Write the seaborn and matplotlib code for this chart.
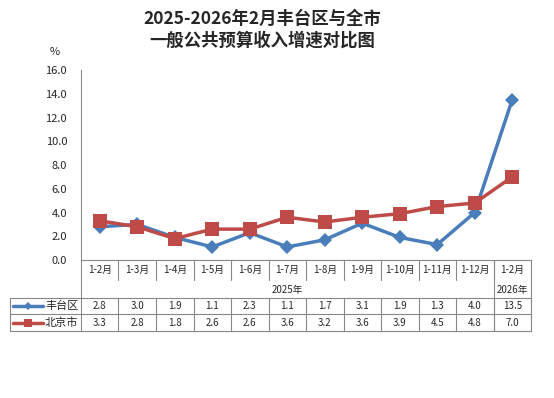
import numpy as np
import pandas as pd
import matplotlib
matplotlib.use("Agg")
import matplotlib.pyplot as plt
import seaborn as sns
from matplotlib.lines import Line2D

# Daten
categories = ["1-2月", "1-3月", "1-4月", "1-5月", "1-6月", "1-7月", "1-8月",
              "1-9月", "1-10月", "1-11月", "1-12月", "1-2月"]
fengtai = [2.8, 3.0, 1.9, 1.1, 2.3, 1.1, 1.7, 3.1, 1.9, 1.3, 4.0, 13.5]
beijing = [3.3, 2.8, 1.8, 2.6, 2.6, 3.6, 3.2, 3.6, 3.9, 4.5, 4.8, 7.0]
series_names = ["丰台区", "北京市"]
year_labels = ["2025年", "2026年"]
title = "2025-2026年2月丰台区与全市\n一般公共预算收入增速对比图"

sns.set_theme(style="white")
plt.rcParams['font.family'] = ['Noto Sans CJK SC', 'DejaVu Sans']

W, H = 554, 398
fig = plt.figure(figsize=(W / 100, H / 100), dpi=100)


def fx(x):
    return x / W


def fy(y):
    return 1 - y / H


x0, x1, ytop, ybot = 81, 531, 70, 260
ax = fig.add_axes([fx(x0), fy(ybot), fx(x1) - fx(x0), fy(ytop) - fy(ybot)])

df = pd.DataFrame({
    "pos": list(range(len(categories))) * 2,
    "value": fengtai + beijing,
    "series": [series_names[0]] * len(fengtai) + [series_names[1]] * len(beijing),
})
blue, red = "#4A7EBB", "#BE4B48"
sns.lineplot(data=df, x="pos", y="value", hue="series", style="series",
             palette=[blue, red], markers=["D", "s"], dashes=False,
             markersize=7, linewidth=2.5, ax=ax, legend=False)
for ln, ms in zip(ax.lines, [7, 9.5]):
    ln.set_markersize(ms)
    ln.set_markeredgewidth(0)

ax.set_xlim(-0.5, len(categories) - 0.5)
ax.set_ylim(0, 16)
ax.set_yticks(np.arange(0, 16.1, 2))
ax.set_yticklabels([f"{v:.1f}" for v in np.arange(0, 16.1, 2)], fontsize=8)
ax.set_xticks([])
ax.set_xlabel("")
ax.set_ylabel("")
ax.tick_params(axis="y", length=0, pad=10)
for s in ["top", "right"]:
    ax.spines[s].set_visible(False)
for s in ["left", "bottom"]:
    ax.spines[s].set_color("#888888")
    ax.spines[s].set_linewidth(0.8)

fig.text(fx(55), fy(52), "%", fontsize=8, ha="center", va="center")
fig.text(fx(262), fy(30), title, fontsize=12.5, fontweight="bold",
         ha="center", va="center", linespacing=1.25)

# Tabelle unter der Achse
gc = "#888888"
cw = (x1 - x0) / len(categories)
r_cat, r_year, r1, r2, r3 = 260, 280, 298, 314, 331


def hline(y, xa, xb):
    fig.add_artist(Line2D([fx(xa), fx(xb)], [fy(y), fy(y)], color=gc, lw=0.8))


def vline(x, ya, yb):
    fig.add_artist(Line2D([fx(x), fx(x)], [fy(ya), fy(yb)], color=gc, lw=0.8))


for i in range(1, len(categories)):
    vline(x0 + cw * i, r_cat, r_year)
vline(x0 + cw * 11, r_cat, r3)
vline(x0, r_cat, r3)
vline(x1, r_cat, r3)
vline(10, r1, r3)
for i in range(1, len(categories)):
    vline(x0 + cw * i, r1, r3)
for y in (r1, r2, r3):
    hline(y, 10, x1)

for i, c in enumerate(categories):
    fig.text(fx(x0 + cw * (i + 0.5)), fy(270), c, fontsize=7, ha="center", va="center")
fig.text(fx(x0 + cw * 5.5), fy(290), year_labels[0], fontsize=7, ha="center", va="center")
fig.text(fx(x0 + cw * 11.5), fy(290), year_labels[1], fontsize=7, ha="center", va="center")

for row_y, vals, col, mk, ms, name in [((r1 + r2) / 2, fengtai, blue, "D", 4, series_names[0]),
                                       ((r2 + r3) / 2, beijing, red, "s", 6, series_names[1])]:
    for i, v in enumerate(vals):
        fig.text(fx(x0 + cw * (i + 0.5)), fy(row_y), f"{v:.1f}", fontsize=7,
                 ha="center", va="center")
    fig.add_artist(Line2D([fx(13), fx(43)], [fy(row_y), fy(row_y)], color=col, lw=2.5))
    fig.add_artist(Line2D([fx(28)], [fy(row_y)], color=col, marker=mk, markersize=ms,
                          markeredgewidth=0, lw=0))
    fig.text(fx(45), fy(row_y), name, fontsize=8, ha="left", va="center")

fig.savefig("out.png", dpi=100)
